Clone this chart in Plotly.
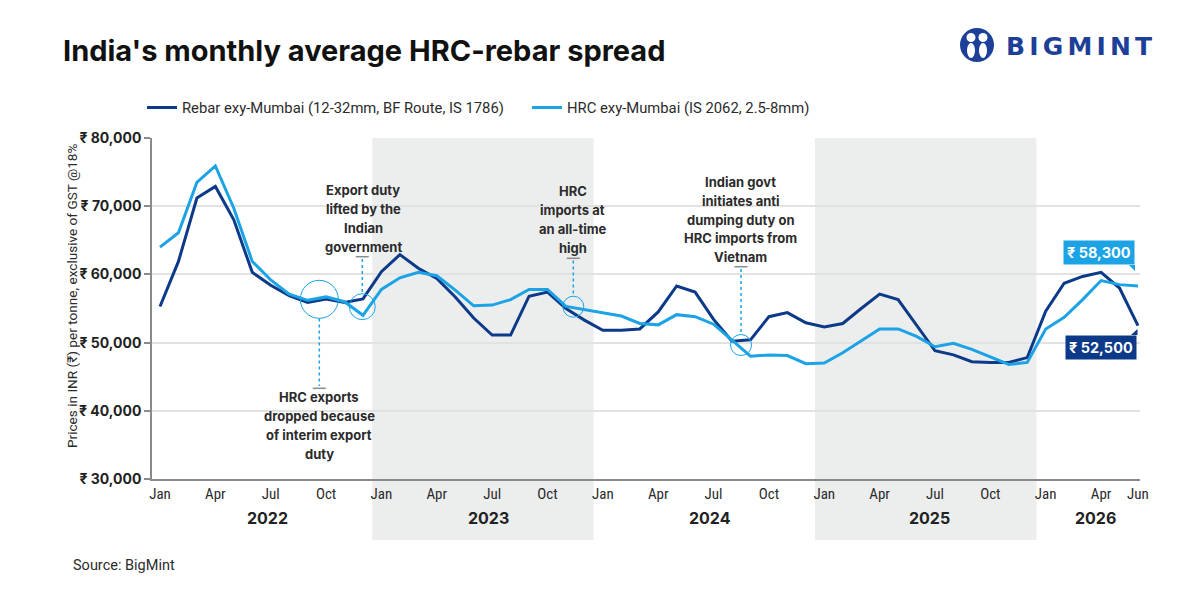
import plotly.graph_objects as go

# ---------------- data ----------------
month_names = ["Jan", "Feb", "Mar", "Apr", "May", "Jun", "Jul", "Aug", "Sep", "Oct", "Nov", "Dec"]
months = [f"{m} {y}" for y in range(2022, 2027) for m in month_names][:54]

rebar = [55300, 61900, 71200, 72900, 68000, 60300, 58400, 56900, 55900, 56400, 55900, 56400,
         60400, 62900, 60900, 59400, 56700, 53600, 51100, 51100, 56800, 57400, 55000, 53300,
         51800, 51800, 52000, 54500, 58300, 57400, 53400, 50200, 50400, 53800, 54400, 52900,
         52300, 52800, 55000, 57100, 56300, 52600, 48800, 48200, 47200, 47100, 47100, 47800,
         54600, 58700, 59700, 60300, 58000, 52500]
hrc = [64000, 66100, 73500, 75900, 69700, 61900, 59200, 57100, 56200, 56700, 56000, 54000,
       57800, 59500, 60300, 59800, 57700, 55400, 55500, 56300, 57800, 57800, 55300, 54800,
       54300, 53900, 52800, 52600, 54100, 53800, 52700, 50300, 48000, 48200, 48100, 46900,
       47000, 48500, 50200, 52000, 52000, 50900, 49400, 49900, 49000, 47900, 46800, 47100,
       52000, 53700, 56300, 59100, 58500, 58300]

series_names = ["Rebar exy-Mumbai (12-32mm, BF Route, IS 1786)", "HRC exy-Mumbai (IS 2062, 2.5-8mm)"]
tick_idx = [0, 3, 6, 9, 12, 15, 18, 21, 24, 27, 30, 33, 36, 39, 42, 45, 48, 51, 53]
tick_text = ["Jan", "Apr", "Jul", "Oct"] * 4 + ["Jan", "Apr", "Jun"]
y_ticks = [30000, 40000, 50000, 60000, 70000, 80000]
y_tick_text = ["₹ 30,000", "₹ 40,000", "₹ 50,000", "₹ 60,000", "₹ 70,000", "₹ 80,000"]
years = ["2022", "2023", "2024", "2025", "2026"]
year_pos = [5.8, 17.8, 29.8, 41.7, 50.7]
shade_spans = [(11.5, 23.5), (35.5, 47.5)]

DARK = "#0C3A88"
LIGHT = "#1BA3E6"
TXT = "#2b2b2b"

x = list(range(len(months)))

# plot area in pixels
L, R, T, B = 152, 1140, 138, 479
def px(X):
    return (X - L) / (R - L)
def py(Y):
    return (B - Y) / (B - T)

fig = go.Figure()
fig.add_trace(go.Scatter(x=x, y=rebar, mode="lines", name=series_names[0],
                         line=dict(color=DARK, width=3), customdata=months))
fig.add_trace(go.Scatter(x=x, y=hrc, mode="lines", name=series_names[1],
                         line=dict(color=LIGHT, width=3), customdata=months))

shapes = []
for a, b in shade_spans:
    shapes.append(dict(type="rect", xref="x", yref="paper", x0=a, x1=b, y0=py(540), y1=1,
                       fillcolor="#ECEDED", line=dict(width=0), layer="below"))

annotations = []

# callouts
callouts = [
    dict(lines=["HRC exports", "dropped because", "of interim export", "duty"], cx=319.3, y0=397, dy=19,
         circle=(319.3, 299.3, 19), tick=388.3, dot=(318.5, 386)),
    dict(lines=["Export duty", "lifted by the", "Indian", "government"], cx=363, y0=190, dy=19,
         circle=(362.3, 306.7, 13), tick=256.7, dot=(259, 293.5)),
    dict(lines=["HRC", "imports at", "an all-time", "high"], cx=572.5, y0=191, dy=19,
         circle=(573.3, 306.7, 10.5), tick=258.3, dot=(260.5, 296)),
    dict(lines=["Indian govt", "initiates anti", "dumping duty on", "HRC imports from", "Vietnam"],
         cx=740.7, y0=181.7, dy=18.9, circle=(741, 345, 10.5), tick=266.7, dot=(269, 334.5)),
]
for c in callouts:
    for i, t in enumerate(c["lines"]):
        annotations.append(dict(text=t, xref="paper", yref="paper", x=px(c["cx"]), y=py(c["y0"] + i * c["dy"]),
                                xanchor="center", yanchor="middle", showarrow=False,
                                font=dict(family="Inter, Roboto, sans-serif", size=13, color=TXT, weight="bold")))
    cx, cy, r = c["circle"]
    shapes.append(dict(type="circle", xref="paper", yref="paper", xsizemode="pixel", ysizemode="pixel",
                       xanchor=px(cx), yanchor=py(cy), x0=-r, x1=r, y0=-r, y1=r,
                       line=dict(color=LIGHT, width=1)))
    shapes.append(dict(type="line", xref="paper", yref="paper", x0=px(cx), x1=px(cx),
                       y0=py(c["dot"][0]), y1=py(c["dot"][1]), line=dict(color=LIGHT, width=1.5, dash="dot")))
    shapes.append(dict(type="line", xref="paper", yref="paper", x0=px(cx - 6.5), x1=px(cx + 6.5),
                       y0=py(c["tick"]), y1=py(c["tick"]), line=dict(color="#8a8a8a", width=1.5)))

# end value labels
annotations.append(dict(text=f"₹ {hrc[-1]:,}", xref="x", yref="y", x=x[-1], y=hrc[-1], xanchor="right",
                        yanchor="bottom", xshift=-3, yshift=20.5, showarrow=False, bgcolor=LIGHT, borderpad=3,
                        font=dict(family="Inter, Roboto, sans-serif", size=14.5, color="white", weight="bold")))
shapes.append(dict(type="path", xref="x", yref="y", xsizemode="pixel", ysizemode="pixel",
                   xanchor=x[-1], yanchor=hrc[-1], path="M -9 21 L -3 21 L -3 15 Z",
                   fillcolor=LIGHT, line=dict(width=0)))
annotations.append(dict(text=f"₹ {rebar[-1]:,}", xref="x", yref="y", x=x[-1], y=rebar[-1], xanchor="right",
                        yanchor="top", xshift=-0.5, yshift=-9.3, showarrow=False, bgcolor=DARK, borderpad=3,
                        font=dict(family="Inter, Roboto, sans-serif", size=14.5, color="white", weight="bold")))
shapes.append(dict(type="path", xref="x", yref="y", xsizemode="pixel", ysizemode="pixel",
                   xanchor=x[-1], yanchor=rebar[-1], path="M -7 -9.5 L -0.5 -9.5 L -0.5 -3.5 Z",
                   fillcolor=DARK, line=dict(width=0)))

# year labels
for yr, pos in zip(years, year_pos):
    annotations.append(dict(text=yr, xref="x", yref="paper", x=pos, y=py(518), xanchor="center",
                            yanchor="middle", showarrow=False,
                            font=dict(family="Inter, Roboto, sans-serif", size=16, color="#222", weight="bold")))

# title, axis title, source
annotations.append(dict(text="India's monthly average HRC-rebar spread", xref="paper", yref="paper",
                        x=px(61), y=py(50), xanchor="left", yanchor="middle", showarrow=False,
                        font=dict(family="Inter, Roboto, sans-serif", size=29, color="#111", weight="bold")))
annotations.append(dict(text="Prices in INR (₹) per tonne, exclusive of GST @18%", xref="paper", yref="paper",
                        x=px(72), y=py(296), xanchor="center", yanchor="middle", textangle=-90, showarrow=False,
                        font=dict(family="Roboto, sans-serif", size=13.6, color=TXT)))
annotations.append(dict(text="Source: BigMint", xref="paper", yref="paper", x=px(71), y=py(565),
                        xanchor="left", yanchor="middle", showarrow=False,
                        font=dict(family="Roboto, sans-serif", size=14.5, color=TXT)))

# logo
LOGO = "#1E3F98"
lx, ly = px(977), py(45)
shapes.append(dict(type="circle", xref="paper", yref="paper", xsizemode="pixel", ysizemode="pixel",
                   xanchor=lx, yanchor=ly, x0=-17, x1=17, y0=-17, y1=17, fillcolor=LOGO, line=dict(width=0)))
for dx in (-6, 6):
    shapes.append(dict(type="circle", xref="paper", yref="paper", xsizemode="pixel", ysizemode="pixel",
                       xanchor=lx, yanchor=ly, x0=dx - 4.5, x1=dx + 4.5, y0=3, y1=12,
                       fillcolor="white", line=dict(width=0)))
    shapes.append(dict(type="circle", xref="paper", yref="paper", xsizemode="pixel", ysizemode="pixel",
                       xanchor=lx, yanchor=ly, x0=dx - 4, x1=dx + 4, y0=-13, y1=2,
                       fillcolor="white", line=dict(width=0)))
annotations.append(dict(text="B\u2006I\u2006G\u2006M\u2006I\u2006N\u2006T", xref="paper", yref="paper",
                        x=px(1004), y=py(46), xanchor="left", yanchor="middle", showarrow=False,
                        font=dict(family="DejaVu Sans, sans-serif", size=25, color=LOGO, weight="bold")))

fig.update_layout(
    width=1200, height=600,
    margin=dict(l=L, r=1200 - R, t=T, b=600 - B, autoexpand=False),
    paper_bgcolor="white", plot_bgcolor="white",
    showlegend=True,
    legend=dict(orientation="h", x=px(142), y=py(108), xanchor="left", yanchor="middle",
                font=dict(family="Roboto, sans-serif", size=14.8, color=TXT),
                entrywidth=340, entrywidthmode="pixels", bgcolor="rgba(0,0,0,0)"),
    shapes=shapes, annotations=annotations,
    hovermode="x unified",
)
fig.update_xaxes(range=[-0.4335, 53.11], tickmode="array", tickvals=tick_idx, ticktext=tick_text,
                 showgrid=False, zeroline=False, showline=True, linecolor="#8a8a8a", linewidth=1.5,
                 ticks="", tickfont=dict(family="Liberation Sans Narrow, Roboto Condensed, Roboto, sans-serif",
                                         size=15, color=TXT))
fig.update_yaxes(range=[30000, 80000], tickmode="array", tickvals=y_ticks, ticktext=y_tick_text,
                 showgrid=True, gridcolor="#E2E2E2", gridwidth=1.5, zeroline=False,
                 showline=True, linecolor="#8a8a8a", linewidth=1.5, ticks="outside", ticklen=6,
                 tickcolor="#8a8a8a", tickwidth=1.5,
                 tickfont=dict(family="Inter, Roboto, sans-serif", size=14, color="#222", weight="bold"))

fig.write_html("out.html")
